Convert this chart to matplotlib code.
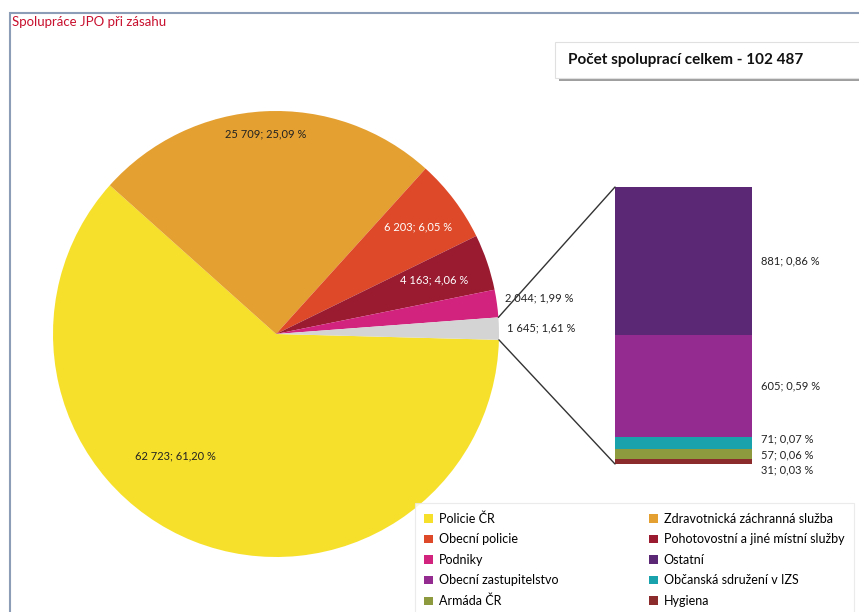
import numpy as np
import matplotlib
matplotlib.use("Agg")
import matplotlib.pyplot as plt
from matplotlib.patches import ConnectionPatch, Rectangle

plt.rcParams["font.family"] = ["Lato", "DejaVu Sans"]

TOTAL = 102487

pie_names = ["Policie ČR", "Zdravotnická záchranná služba", "Obecní policie",
             "Pohotovostní a jiné místní služby", "Podniky", "Ostatní (souhrn)"]
pie_values = [62723, 25709, 6203, 4163, 2044, 1645]
pie_colors = ["#F6E02C", "#E4A031", "#DE4A29", "#9A1A30", "#D2237E", "#D4D4D4"]

bar_names = ["Ostatní", "Obecní zastupitelstvo", "Občanská sdružení v IZS",
             "Armáda ČR", "Hygiena"]
bar_values = [881, 605, 71, 57, 31]
bar_colors = ["#5B2876", "#932B91", "#1AA2AC", "#8E9A3E", "#8C2B2B"]

W, H = 859, 612


def fr(x0, y0, x1, y1):
    # pixel box (top-left origin) -> figure fraction rect
    return [x0 / W, 1 - y1 / H, (x1 - x0) / W, (y1 - y0) / H]


def fmt(v):
    pct = f"{v / TOTAL * 100:.2f}".replace(".", ",")
    return f"{v:,}".replace(",", " ") + "; " + pct + " %"


fig = plt.figure(figsize=(W / 100, H / 100), dpi=100)

# outer frame
fig.add_artist(Rectangle((10 / W, -0.1), 1.2, 1 - 13 / H + 0.1, fill=False,
                         edgecolor="#8C9DB8", lw=1.5, transform=fig.transFigure))

# pie
ax = fig.add_axes(fr(53, 111, 499, 557))
wedges, _ = ax.pie(pie_values, colors=pie_colors, startangle=-1.5,
                   counterclock=False, wedgeprops=dict(linewidth=0))
ax.set_xlim(-1, 1)
ax.set_ylim(-1, 1)

label_r = [0.71, 0.9, 0.8, 0.75, 1.19, 1.19]
label_da = [-18, 0, 0, 0, 0, 0]
label_c = ["#222222", "#222222", "white", "white", "#222222", "#222222"]
for w, v, r, da, c in zip(wedges, pie_values, label_r, label_da, label_c):
    mid = np.deg2rad((w.theta1 + w.theta2) / 2 + da)
    ax.text(r * np.cos(mid), r * np.sin(mid), fmt(v), ha="center", va="center",
            fontsize=8, color=c)

# stacked bar of the grey slice
bx = fig.add_axes(fr(615, 187, 752, 464))
bottom = 0
centers = []
bar_patches = []
for v, c in zip(bar_values[::-1], bar_colors[::-1]):
    p = bx.bar(0, v, width=1, bottom=bottom, color=c, linewidth=0)
    bar_patches.append(p[0])
    centers.append(bottom + v / 2)
    bottom += v
bar_patches = bar_patches[::-1]
centers = centers[::-1]
bx.set_xlim(-0.5, 0.5)
bx.set_ylim(0, sum(bar_values))
bx.axis("off")

bar_dy = [0, 0, -4, 1, 9]
for v, cy, dy in zip(bar_values, centers, bar_dy):
    bx.annotate(fmt(v), (0.5, cy), xytext=(9, -dy), textcoords="offset pixels",
                ha="left", va="center", fontsize=8, color="#222222",
                annotation_clip=False)

# connector lines
g = wedges[-1]
top_a = np.deg2rad(max(g.theta1, g.theta2))
bot_a = np.deg2rad(min(g.theta1, g.theta2))
for ang, yb in [(top_a, sum(bar_values)), (bot_a, 0)]:
    con = ConnectionPatch(xyA=(np.cos(ang), np.sin(ang)), coordsA=ax.transData,
                          xyB=(-0.5, yb), coordsB=bx.transData,
                          color="#333333", lw=1)
    fig.add_artist(con)

# legend
handles = list(wedges[:5]) + bar_patches
names = pie_names[:5] + bar_names
order = list(range(0, 10, 2)) + list(range(1, 10, 2))
leg = fig.legend([handles[i] for i in order], [names[i] for i in order],
                 ncol=2, loc="upper left", bbox_to_anchor=(415 / W, 1 - 503 / H),
                 fontsize=9, frameon=True, fancybox=False, handlelength=0.7,
                 handleheight=0.7, handletextpad=0.5, columnspacing=7.2,
                 labelspacing=0.68, borderpad=0.75, borderaxespad=0)
leg.get_frame().set_edgecolor("#E6E6E6")
leg.get_frame().set_linewidth(0.8)

# title
fig.text(12 / W, 1 - 22 / H, "Spolupráce JPO při zásahu", color="#C8102E",
         fontsize=9.5, va="center")

# total box with shadow
fig.add_artist(Rectangle((559 / W, 1 - 81 / H), 1, 36 / H, facecolor="#777777",
                         alpha=0.7, lw=0, transform=fig.transFigure))
fig.add_artist(Rectangle((555 / W, 1 - 78 / H), 1, 36 / H, facecolor="white",
                         edgecolor="#E0E0E0", lw=0.8, transform=fig.transFigure))
fig.text(568 / W, 1 - 60 / H, "Počet spoluprací celkem - 102 487", fontsize=11,
         fontweight="bold", va="center", color="#111111")

fig.savefig("out.png", dpi=100)
